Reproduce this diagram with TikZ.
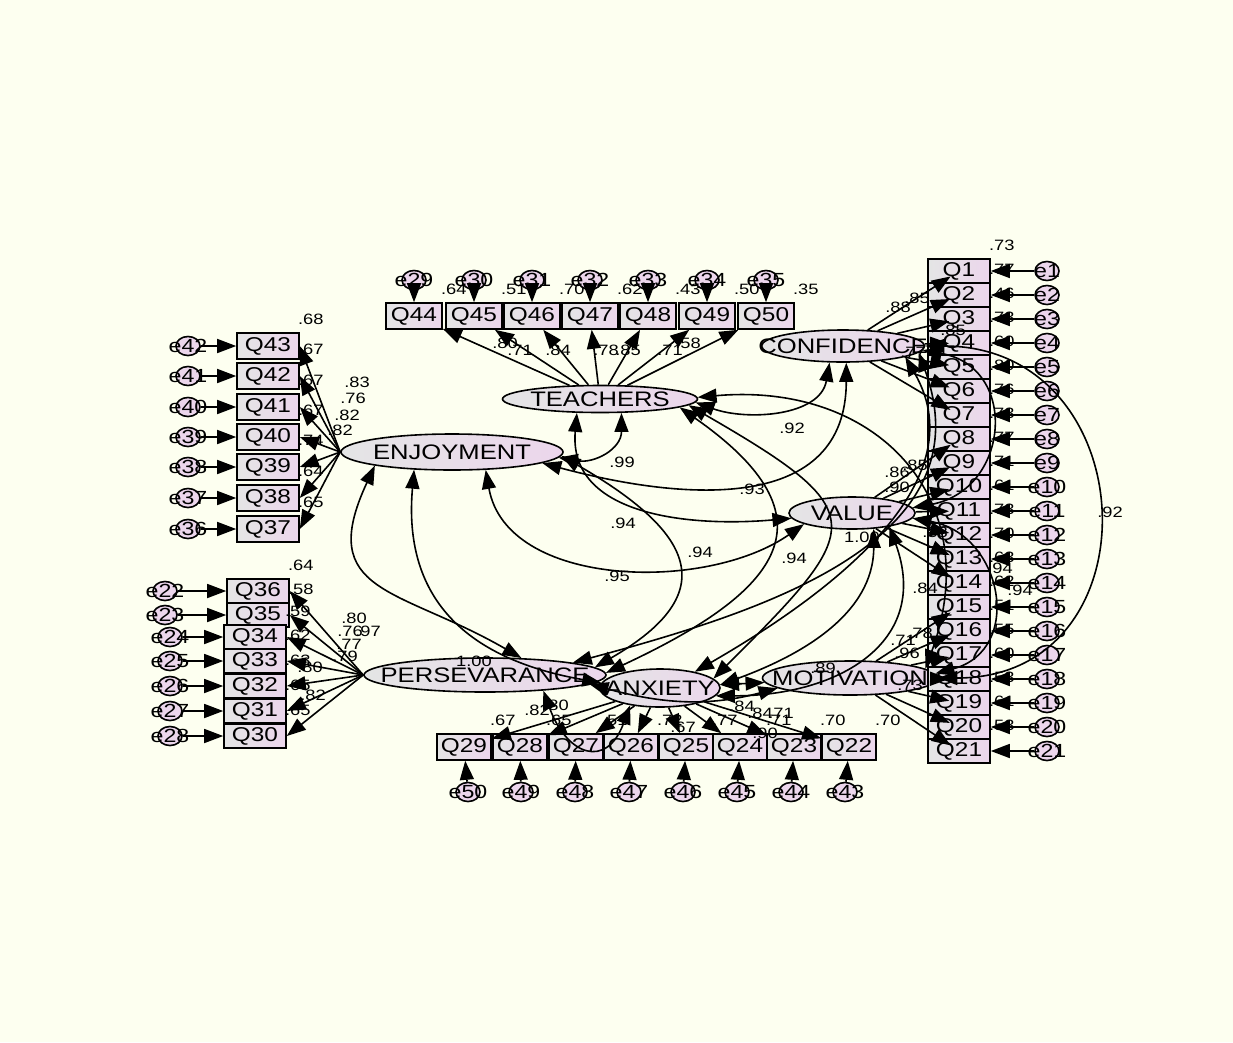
\documentclass[tikz,border=0pt]{standalone}
\usepackage{fontspec}
\setmainfont{Liberation Sans}[FakeStretch=1.22]
\usetikzlibrary{arrows.meta,shapes.geometric}
\definecolor{paper}{RGB}{253,255,240}
\definecolor{fillL}{RGB}{228,229,229}
\definecolor{fillR}{RGB}{236,214,236}
\tikzset{
  obs/.style={draw, line width=1.6pt, left color=fillL, right color=fillR,
    minimum width=56pt, minimum height=26pt, inner sep=0pt,
    font=\fontsize{20}{20}\selectfont},
  lat/.style={ellipse, draw, line width=1.6pt, left color=fillL, right color=fillR,
    inner sep=0pt, font=\fontsize{21}{21}\selectfont},
  err/.style={ellipse, draw, line width=1.6pt, fill=fillR, minimum width=24pt,
    minimum height=19pt, inner sep=0pt, font=\fontsize{19}{19}\selectfont},
  num/.style={inner sep=0pt, font=\fontsize{15}{15}\selectfont},
  load/.style={-{Triangle[length=19pt,width=14pt]}, line width=1.6pt},
  cov/.style={{Triangle[length=19pt,width=14pt]}-{Triangle[length=19pt,width=14pt]}, line width=1.6pt},
}
\begin{document}
\begin{tikzpicture}[x=1pt,y=1pt]
\fill[paper] (0,0) rectangle (1233,-1042);
\useasboundingbox (0,0) rectangle (1233,-1042);

% factors
\node[lat, minimum width=195pt, minimum height=27pt] (tea) at (600,-399) {\makebox[0pt]{TEACHERS}};
\node[lat, minimum width=222pt, minimum height=36pt] (enj) at (452,-452) {\makebox[0pt]{ENJOYMENT}};
\node[lat, minimum width=163pt, minimum height=32pt] (con) at (843,-346) {\makebox[0pt]{CONFIDENCE}};
\node[lat, minimum width=126pt, minimum height=32pt] (val) at (852,-513) {\makebox[0pt]{VALUE}};
\node[lat, minimum width=242pt, minimum height=34pt] (per) at (485,-675) {\makebox[0pt]{PERSEVARANCE}};
\node[lat, minimum width=175pt, minimum height=34pt] (mot) at (850,-678) {\makebox[0pt]{MOTIVATION}};
\node[lat, minimum width=120pt, minimum height=38pt] (anx) at (660,-688) {\makebox[0pt]{ANXIETY}};

% right column Q1-Q21
\foreach \i/\r in {1/.73,2/.77,3/.46,4/.73,5/.60,6/.80,7/.76,8/.73,9/.77,10/.71,11/.61,
  12/.73,13/.70,14/.63,15/.62,16/.51,17/.55,18/.60,19/.53,20/.61,21/.53}{
  \node[obs, minimum width=62pt, minimum height=24pt] (q\i) at (959,{-271-24*(\i-1)}) {Q\i};
  \node[err] (e\i) at (1047,{-271-24*(\i-1)}) {\makebox[0pt]{e\i}};
  \node[num] (r\i) at ([shift={(11,13)}]q\i.north east) {\r};
}
% top row Q44-Q50
\foreach \i/\x/\e/\r in {44/414/29/.64,45/474/30/.51,46/532/31/.70,47/590/32/.62,
  48/648/33/.43,49/707/34/.50,50/766/35/.35}{
  \node[obs] (q\i) at (\x,-316) {Q\i};
  \node[err] (e\e) at (\x,-280) {\makebox[0pt]{e\e}};
  \node[num] (r\i) at ([shift={(11,13)}]q\i.north east) {\r};
}
% left block Q43-Q37
\foreach \i/\y/\e/\r in {43/346/42/.68,42/376/41/.67,41/407/40/.67,40/437/39/.67,
  39/467/38/.74,38/498/37/.64,37/529/36/.65}{
  \node[obs, minimum width=62pt] (q\i) at (268,-\y) {Q\i};
  \node[err] (e\e) at (188,-\y) {\makebox[0pt]{e\e}};
  \node[num] (r\i) at ([shift={(11,13)}]q\i.north east) {\r};
}
% left block Q36-Q30
\foreach \i/\x/\y/\e/\ex/\r in {36/258/591/22/165/.64,35/258/615/23/165/.58,
  34/255/637/24/170/.59,33/255/661/25/170/.62,32/255/686/26/170/.63,
  31/255/711/27/170/.65,30/255/736/28/170/.65}{
  \node[obs, minimum width=62pt, minimum height=24pt] (q\i) at (\x,-\y) {Q\i};
  \node[err] (e\e) at (\ex,-\y) {\makebox[0pt]{e\e}};
  \node[num] (r\i) at ([shift={(11,13)}]q\i.north east) {\r};
}
% bottom row Q29-Q22
\foreach \i/\x/\ex/\e/\r in {29/464/468/50/.67,28/520/521/49/.65,27/576/575/48/.51,
  26/631/629/47/.72,25/686/683/46/.77,24/740/737/45/.71,23/794/791/44/.70,22/849/845/43/.70}{
  \node[obs, minimum width=54pt] (q\i) at (\x,-747) {Q\i};
  \node[err] (e\e) at (\ex,-792) {\makebox[0pt]{e\e}};
  \node[num] (r\i) at ([shift={(11,13)}]q\i.north east) {\r};
}

% error terms
\foreach \i in {1,...,21} \draw[load] (e\i) -- (q\i);
\foreach \i/\e in {44/29,45/30,46/31,47/32,48/33,49/34,50/35,43/42,42/41,41/40,40/39,
  39/38,38/37,37/36,36/22,35/23,34/24,33/25,32/26,31/27,30/28,29/50,28/49,27/48,
  26/47,25/46,24/45,23/44,22/43}
  \draw[load] (e\e) -- (q\i);

% loadings
\foreach \i in {44,...,50} \draw[load] (tea) -- (q\i);
\foreach \i in {37,...,43} \draw[load] (enj.west) -- (q\i.east);
\foreach \i in {30,...,36} \draw[load] (per.west) -- (q\i.east);
\foreach \i in {22,...,29} \draw[load] (anx) -- (q\i);
\foreach \i in {1,...,7} \draw[load, shorten >=10pt] (con) -- (q\i.center);
\foreach \i in {8,...,14} \draw[load, shorten >=10pt] (val) -- (q\i.center);
\foreach \i in {15,...,21} \draw[load, shorten >=10pt] (mot) -- (q\i.center);

% covariances
\draw[cov] (enj.-3) to[out=-10,in=-90,looseness=1.2] (tea.-33);
\draw[cov] (enj.-7) to[out=-15,in=-90,looseness=1.2] (con.-79);
\draw[cov] (tea.-2) to[out=-20,in=-100] (con.-129);
\draw[cov] (tea.-149) to[out=-95,in=185,looseness=1.1] (val.185);
\draw[cov] (enj.-28) to[out=-80,in=215,looseness=.95] (val.193);
\draw[cov] (enj.190) to[out=-115,in=150,looseness=1.5] (per.25);
\draw[cov] (enj.205) to[out=-95,in=170,looseness=1.2] (anx.175);
\draw[cov] (enj.-2) to[out=-30,in=30,looseness=1.8] (per.4);
\draw[cov] (tea.-6) to[out=-35,in=25,looseness=1.8] (per.1);
\draw[cov] (tea.-4) to[out=-30,in=45,looseness=2] (anx.10);
\draw[cov] (tea.1) to[out=5,in=70,looseness=1.3] (mot.7);
\draw[cov] (val.-36) to[out=-90,in=20] (anx.3);
\draw[cov] (val.-20) to[out=-70,in=0,looseness=1.3] (anx.-8);
\draw[cov] (con.-10) to[out=-60,in=30] (anx.25);
\draw[cov] (con.-5) to[out=-70,in=15,looseness=1.1] (per.8);
\draw[cov] (con.0) to[out=0,in=0,looseness=1.7] (mot.0);
\draw[cov] (con.-3) to[out=-10,in=10,looseness=1.6] (val.5);
\draw[cov] (val.-5) to[out=-10,in=15,looseness=1.5] (mot.3);
\draw[cov] (per.-15) to[out=-70,in=-110,looseness=2] (anx.-150);
\draw[cov] (anx) -- (mot);
\draw[cov] (per.-5) to[out=-15,in=-165] (mot.-172);

% estimates
\foreach \v/\x/\y [count=\k] in {.99/622/462,.92/792/428,.93/752/489,.94/623/523,
  .94/700/552,.95/617/576,.94/794/558,.92/1110/512,1.00/474/661,1.00/862/537,
  .89/823/668,.94/1000/568,.94/1020/590,.84/925/588,.88/935/532,
  .80/505/343,.71/520/350,.84/558/350,.78/606/350,.85/628/350,.71/670/350,.58/688/343,
  .83/357/382,.76/353/398,.82/347/415,.82/340/430,
  .80/354/618,.76/350/631,.97/368/631,.77/349/644,.79/345/656,.80/310/667,.82/313/695,
  .82/537/710,.80/556/705,.84/742/706,.84/760/713,.71/781/713,.90/765/733,.67/683/727,
  .88/898/307,.85/917/298,.85/953/330,.77/913/352,
  .86/897/472,.85/915/465,.90/897/487,
  .71/903/640,.78/920/633,.96/907/653,.73/910/685}
  \node[num] (est\k) at (\x,-\y) {\v};
\end{tikzpicture}
\end{document}
